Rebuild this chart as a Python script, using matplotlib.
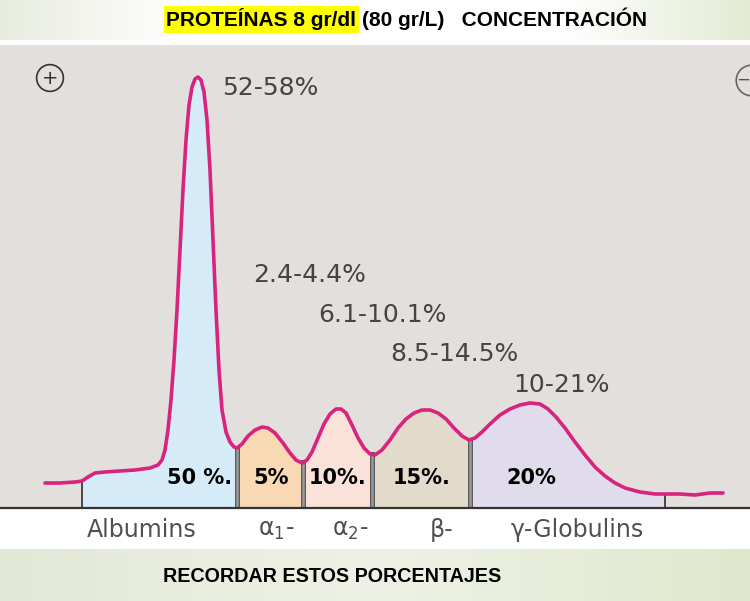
import numpy as np
import matplotlib
matplotlib.use("Agg")
import matplotlib.pyplot as plt
from matplotlib.colors import LinearSegmentedColormap

plt.rcParams['mathtext.fontset'] = 'dejavusans'

# ---- data (migration distance, relative absorbance) ----
mig = [45, 60, 75, 82, 88, 95, 105, 120, 135, 150, 158, 162, 165, 168, 171, 174,
       177, 180, 183, 186, 189, 192, 195, 198, 201, 204, 207, 210, 213, 216, 219,
       222, 226, 230, 234, 237, 242, 248, 255, 262, 268, 275, 283, 290, 296, 302,
       307, 312, 318, 324, 330, 336, 341, 346, 352, 358, 364, 370, 375, 382, 390,
       398, 406, 414, 422, 430, 438, 446, 454, 462, 469, 475, 482, 490, 500, 510,
       520, 530, 540, 548, 556, 565, 575, 585, 595, 605, 615, 625, 640, 655, 665,
       680, 695, 710, 723]
absorb = [25, 25, 26, 27, 31, 35, 36, 37, 38, 40, 43, 48, 58, 78, 108, 148,
          198, 258, 318, 368, 403, 421, 429, 431, 428, 416, 388, 338, 268, 198, 138,
          98, 76, 66, 61, 60, 64, 72, 78, 81, 80, 75, 65, 55, 48, 45,
          48, 56, 70, 84, 94, 99, 99, 95, 83, 70, 60, 54, 53, 58, 68,
          80, 89, 95, 98, 98, 95, 89, 80, 72, 68, 70, 76, 84, 93, 99,
          103, 105, 104, 99, 91, 80, 66, 53, 41, 32, 25, 20, 16, 14, 14,
          14, 13, 15, 15]

fractions = ["Albumins", "α$_{1}$-", "α$_{2}$-", "β-", "γ-Globulins"]
label_pos = [142, 276, 350, 442, 577]
bounds = [82, 237, 303, 372, 470, 665]
fill_colors = ["#d5ebf7", "#f8d9b4", "#fae2d8", "#e2dbcc", "#e1dcec"]
percent_labels = ["50 %.", "5%", "10%.", "15%.", "20%"]
percent_x = [200, 271, 338, 422, 531]
percent_y = 30
ranges = ["52-58%", "2.4-4.4%", "6.1-10.1%", "8.5-14.5%", "10-21%"]
range_x = [222, 253, 318, 390, 513]
range_y = [420, 233, 193, 154, 123]

W, H = 750, 601
fig = plt.figure(figsize=(7.5, 6.01), dpi=100)

# ---- background decoration ----
bg = fig.add_axes([0, 0, 1, 1])
bg.set_xlim(0, W)
bg.set_ylim(H, 0)
bg.axis('off')
bg.add_patch(plt.Rectangle((0, 0), W, H, color='white', zorder=0))
green = LinearSegmentedColormap.from_list('g', ['#e2e8d6', '#eef2e6', '#dfe8cc'])
grad = np.linspace(0, 1, 256)[None, :]
bg.imshow(grad, cmap=green, extent=(0, W, H, 549), aspect='auto', zorder=1)
topmap = LinearSegmentedColormap.from_list('t', ['#e8ecdf', '#ffffff', '#ffffff', '#ffffff', '#e3ebd3'])
bg.imshow(grad, cmap=topmap, extent=(0, W, 40, 0), aspect='auto', zorder=1)
bg.set_xlim(0, W)
bg.set_ylim(H, 0)

hfont = ['Liberation Sans', 'DejaVu Sans']
t1 = bg.text(166, 19, "PROTEÍNAS 8 gr/dl", fontsize=15, fontweight='bold',
             family=hfont, va='center', ha='left',
             bbox=dict(boxstyle='square,pad=0.12', fc='#ffff00', ec='none'), zorder=3)
bg.annotate("(80 gr/L)   CONCENTRACIÓN", xy=(1, 0.5), xycoords=t1, xytext=(4, 0),
            textcoords='offset points', fontsize=15, fontweight='bold',
            family=hfont, va='center', ha='left', zorder=3)
bg.text(163, 576, "RECORDAR ESTOS PORCENTAJES", fontsize=14.2, fontweight='bold',
        family=hfont, va='center', ha='left', zorder=3)

# ---- main electrophoresis panel ----
ax = fig.add_axes([0, (H - 508) / H, 1, (508 - 45) / H])
ax.set_facecolor('#e3dfdc')
ax.set_xlim(0, W)
ax.set_ylim(0, 463)
for s in ax.spines.values():
    s.set_visible(False)

x = np.array(mig, dtype=float)
y = np.array(absorb, dtype=float)

for i in range(5):
    b0, b1 = bounds[i], bounds[i + 1]
    inner = (x > b0) & (x < b1)
    xs = np.concatenate([[b0], x[inner], [b1]])
    ys = np.interp(xs, x, y)
    ax.fill_between(xs, 0, ys, color=fill_colors[i], lw=0, zorder=1)

for j, b in enumerate(bounds):
    top = np.interp(b, x, y)
    if j in (0, len(bounds) - 1):
        ax.plot([b, b], [0, top], color='#3a3a3a', lw=1.3, zorder=2)
    else:
        ax.plot([b, b], [0, top], color='#5a5a5a', lw=3.6, zorder=2)
        ax.plot([b, b], [0, top], color='#9a9a9a', lw=1.8, zorder=2)

ax.plot(x, y, color='#d8237f', lw=2.6, zorder=4, solid_capstyle='round')
ax.axhline(0, color='#333333', lw=1.6, zorder=5, clip_on=False)

for t, px in zip(percent_labels, percent_x):
    ax.text(px, percent_y, t, fontsize=15, fontweight='bold', ha='center', va='center',
            family='DejaVu Sans', color='black', zorder=6)

for t, px, py in zip(ranges, range_x, range_y):
    ax.text(px, py, t, fontsize=18, ha='left', va='center', color='#444444',
            family='DejaVu Sans', zorder=6)

# polarity marks
ax.text(50, 430, "+", fontsize=14, ha='center', va='center', color='#333333',
        bbox=dict(boxstyle='circle,pad=0.2', fc='none', ec='#333333', lw=1.2))
ax.plot([751], [428], marker='o', ms=22, mfc='none', mec='#666666', mew=1.2,
        clip_on=True, zorder=6)
ax.text(743, 428, "\u2212", fontsize=12, ha='center', va='center', color='#555555')

ax.set_xticks(label_pos)
ax.set_xticklabels(fractions, fontsize=17, color='#505050', family='DejaVu Sans')
ax.tick_params(axis='x', length=0, pad=7)
ax.set_yticks([])

fig.savefig("out.png", dpi=100)
